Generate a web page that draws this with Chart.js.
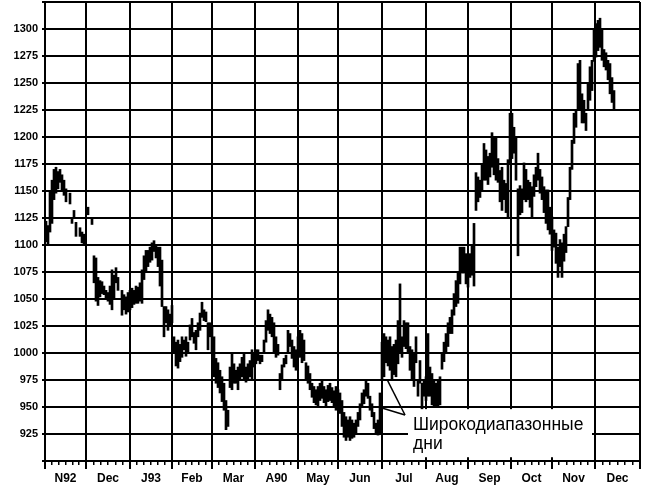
<!DOCTYPE html>
<html><head><meta charset="utf-8">
<script src="https://cdn.jsdelivr.net/npm/chart.js@4"></script>
<style>html,body{margin:0;padding:0;background:#fff;overflow:hidden}</style>
</head><body>
<canvas id="c" width="649" height="495" style="display:block;width:649px;height:495px"></canvas>
<script>
// ---- data ----
const monthLabels = ['N92','Dec','J93','Feb','Mar','A90','May','Jun','Jul','Aug','Sep','Oct','Nov','Dec'];
const monthBounds = [0,20.5,42.5,63.5,83.5,105,126.5,146.5,168.5,190.5,211.5,233,253.5,275,297.5];
const yLabels = [925,950,975,1000,1025,1050,1075,1100,1125,1150,1175,1200,1225,1250,1275,1300];
const highs = [
1122,1118,1150,1160,1170,1172,1168,1170,1165,1160,
1152,null,1148,1124,1132,1121,null,1116,1112,1110,
null,1135,null,1124,1090,1088,1070,1067,1066,1062,
1058,1056,1062,1077,1072,1079,1070,null,1058,1054,
1052,1056,1058,1060,1058,1062,1061,1065,1077,1090,
1095,1095,1098,1102,1104,1100,1098,1098,1086,1043,
1043,1040,1036,1044,1015,1010,1012,1008,1015,1012,
1015,1010,1026,1032,1019,1021,1028,1037,1047,1040,
1038,1028,1028,1024,1015,995,991,984,978,972,
956,947,987,1000,990,984,987,990,996,1000,
987,990,993,1003,1000,1003,1003,998,998,1012,
1030,1040,1036,1033,1028,1015,1008,981,989,995,
998,1021,1018,1012,1006,1003,1015,1021,1018,1012,
991,988,981,972,969,966,969,972,975,969,
966,970,972,968,965,969,966,963,956,945,
941,938,941,938,935,938,945,953,963,966,
975,972,960,953,945,935,938,963,1010,1018,
1015,1012,1015,1006,1008,1012,1030,1064,1015,1030,
1028,1028,1006,1003,1000,1015,975,993,972,975,
978,1018,987,981,975,972,975,978,1000,1010,
1018,1028,1033,1040,1055,1067,1074,1098,1098,1098,
1092,1086,1092,1100,1120,1167,1163,1160,1175,1194,
1188,1182,1185,1204,1200,1200,1180,1169,1172,1160,
1157,1179,1222,1222,1209,1200,1152,1155,1152,1176,
1170,1160,1158,1154,1165,1172,1185,1170,1163,1154,
1151,1151,1135,1126,1114,1111,1098,1105,1102,1110,
1117,1144,1172,1197,1222,1225,1268,1271,1240,1234,
1222,1250,1265,1271,1299,1305,1308,1310,1299,1281,
1278,1271,1268,1255,1243];
const lows = [
1103,1100,1112,1120,1142,1148,1152,1158,1150,1146,
1140,null,1138,1120,1126,1108,null,1108,1102,1100,
null,1128,null,1119,1065,1048,1044,1052,1055,1054,
1050,1048,1045,1040,1050,1065,1058,null,1035,1040,
1036,1038,1040,1042,1045,1046,1046,1048,1046,1068,
1075,1080,1084,1086,1094,1088,1080,1062,1043,1015,
1028,1021,1026,1028,1000,988,986,992,996,1003,
997,1000,1012,1015,1009,1003,1015,1021,1033,1030,
1029,1003,1015,1000,978,972,968,963,955,947,
929,932,968,966,972,972,966,975,978,975,
973,976,978,975,987,990,993,990,992,1001,
1010,1021,1018,1015,1000,996,998,966,975,987,
990,1000,1006,995,987,984,996,996,991,993,
975,972,966,959,954,952,950,956,958,954,
950,955,956,954,950,947,948,944,932,922,
919,922,919,921,922,926,932,938,950,953,
960,958,947,941,930,926,924,926,975,978,
991,988,984,975,980,978,990,1000,996,1006,
1004,1000,984,975,969,991,960,972,947,960,
956,960,960,952,950,950,950,952,985,992,
1000,1006,1018,1018,1035,1043,1046,1064,1074,1074,
1064,1061,1070,1072,1062,1132,1140,1144,1150,1160,
1160,1156,1163,1172,1165,1160,1158,1140,1132,1142,
1130,1126,1176,1180,1185,1160,1090,1128,1130,1142,
1140,1142,1135,1126,1145,1154,1160,1148,1142,1130,
1120,1114,1110,1095,1098,1083,1070,1080,1070,1085,
1093,1117,1142,1170,1194,1209,1225,1225,1213,1213,
1206,1225,1234,1243,1270,1274,1280,1283,1271,1265,
1262,1253,1240,1232,1225];
const noteLines = ['Широкодиапазонные','дни'];

// ---- build ----
const bars = [];
highs.forEach((h,i)=>{ if(h!=null && lows[i]!=null) bars.push({x:i+0.5, y:[lows[i],h]}); });

const monthTicks = [];
for(let i=0;i<monthLabels.length;i++){ monthTicks.push(monthBounds[i]); monthTicks.push((monthBounds[i]+monthBounds[i+1])/2); }
monthTicks.push(monthBounds[monthBounds.length-1]);
const weekTicks = [];
for(let i=0;i<monthLabels.length;i++){ const a=monthBounds[i], b=monthBounds[i+1]; for(let k=1;k<6;k++) weekTicks.push(a+(b-a)*k/6); }

const note = {
  box:{x0:181.5, x1:273.5, top:948, bottom:903.5},
  textX:184, baselines:[928.7, 911],
  from:{x:180, y:942.6},
  tips:[{x:171, y:975.5},{x:168.5, y:949}]
};
const notePlugin = {
  id:'note',
  afterDatasetsDraw(chart){
    const ctx = chart.ctx, xs = chart.scales.x, ys = chart.scales.y;
    ctx.save();
    const bx0 = xs.getPixelForValue(note.box.x0), bx1 = xs.getPixelForValue(note.box.x1);
    const by0 = ys.getPixelForValue(note.box.top), by1 = ys.getPixelForValue(note.box.bottom);
    ctx.fillStyle = '#fff';
    ctx.fillRect(bx0, by0, bx1-bx0, by1-by0);
    ctx.fillStyle = '#000';
    ctx.font = '17.5px "Liberation Sans", Arial, sans-serif';
    ctx.textBaseline = 'alphabetic';
    noteLines.forEach((t,i)=> ctx.fillText(t, xs.getPixelForValue(note.textX), ys.getPixelForValue(note.baselines[i])));
    ctx.strokeStyle = '#000'; ctx.lineWidth = 1.5;
    const fx = xs.getPixelForValue(note.from.x), fy = ys.getPixelForValue(note.from.y);
    note.tips.forEach(t=>{ ctx.beginPath(); ctx.moveTo(fx,fy); ctx.lineTo(xs.getPixelForValue(t.x), ys.getPixelForValue(t.y)); ctx.stroke(); });
    ctx.restore();
  }
};

new Chart(document.getElementById('c'), {
  type:'bar',
  data:{ datasets:[{ data:bars, backgroundColor:'#000', borderWidth:0, barThickness:2, grouped:false }] },
  options:{
    responsive:false, animation:false, devicePixelRatio:1,
    layout:{ padding:{ top:2, right:9, left:0, bottom:0 } },
    plugins:{ legend:{display:false}, tooltip:{enabled:false} },
    scales:{
      xw:{ type:'linear', position:'bottom', min:0, max:297.5, weight:0, offset:false,
        afterBuildTicks:ax=>{ ax.ticks = weekTicks.map(v=>({value:v})); },
        afterFit:s=>{ s.height = 0; s.paddingLeft = 0; s.paddingRight = 0; },
        ticks:{ display:false },
        grid:{ offset:false, drawOnChartArea:false, color:'#000', lineWidth:1.5, tickLength:4 },
        border:{ display:false } },
      x:{ type:'linear', position:'bottom', min:0, max:297.5, weight:1, offset:false,
        afterBuildTicks:ax=>{ ax.ticks = monthTicks.map(v=>({value:v})); },
        afterFit:s=>{ s.height = 34; s.paddingLeft = 0; s.paddingRight = 0; },
        ticks:{ autoSkip:false, maxRotation:0, minRotation:0, padding:2, color:'#000',
          font:{ family:'"Liberation Sans", Arial, sans-serif', weight:'bold', size:12 },
          callback:(v,i)=> (i%2===1 ? monthLabels[(i-1)/2] : '') },
        grid:{ offset:false, color:c=> (c.index%2===0 ? '#000' : 'rgba(0,0,0,0)'), lineWidth:2, tickLength:8 },
        border:{ display:true, color:'#000', width:2 } },
      y:{ min:900, max:1325,
        afterFit:s=>{ s.width = 45; s.paddingTop = 0; s.paddingBottom = 0; },
        ticks:{ stepSize:25, padding:4, color:'#000',
          font:{ family:'"Liberation Sans", Arial, sans-serif', weight:'bold', size:11 },
          callback:v=> (yLabels.includes(v) ? String(v) : '') },
        grid:{ color:'#000', lineWidth:2, tickLength:3 },
        border:{ display:true, color:'#000', width:2 } }
    }
  },
  plugins:[notePlugin]
});
</script>
</body></html>
